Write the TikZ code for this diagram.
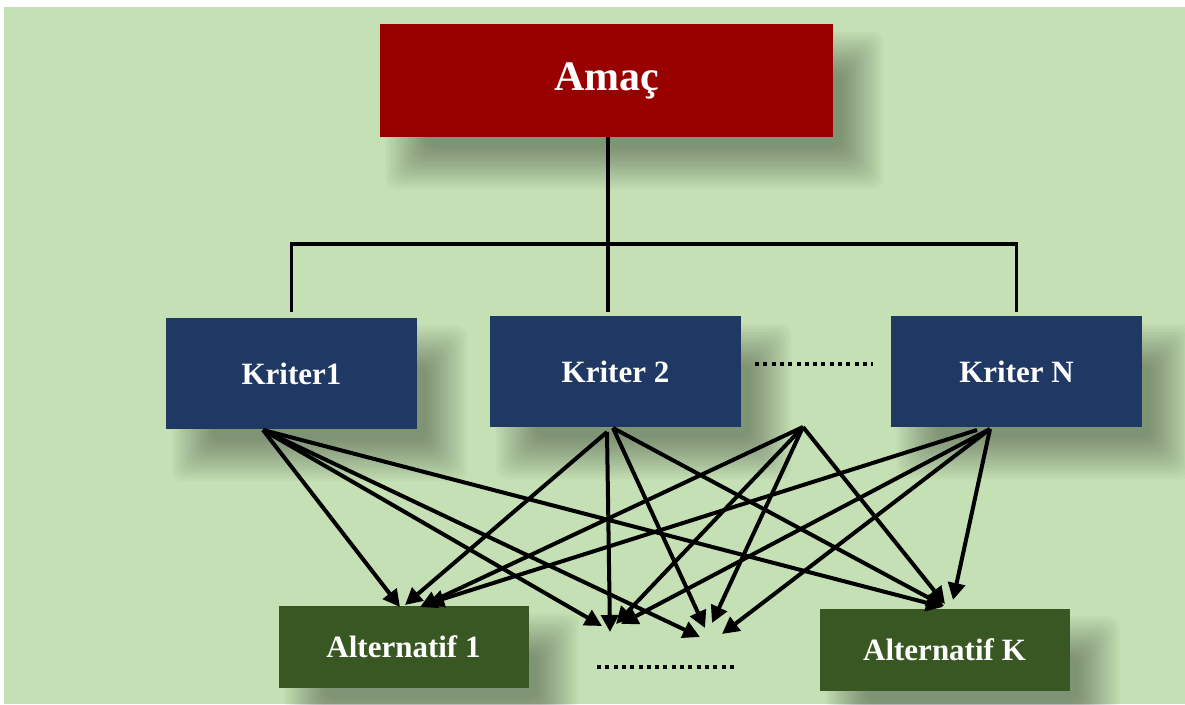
\documentclass[tikz,border=0pt]{standalone}
\usepackage{fontspec}
\setmainfont{Liberation Serif}
\usetikzlibrary{arrows.meta,calc}
\definecolor{bggreen}{HTML}{C5E0B4}
\definecolor{goalred}{HTML}{990000}
\definecolor{critblue}{HTML}{203864}
\definecolor{altgreen}{HTML}{385723}
\pgfdeclarelayer{back}
\pgfsetlayers{back,main}
\tikzset{
  box/.style={draw=none, inner sep=0pt, text=white,
    font=\fontsize{31}{37}\selectfont\bfseries},
  goalbox/.style={box, fill=goalred, minimum width=453pt, minimum height=113pt,
    font=\fontsize{42}{50}\selectfont\bfseries},
  critbox/.style={box, fill=critblue, minimum width=251pt, minimum height=111pt},
  altbox/.style={box, fill=altgreen, minimum width=250pt, minimum height=82pt},
  tree/.style={line width=3.8pt, black, line join=miter},
  arr/.style={line width=4pt, black, -{Triangle[length=17pt,width=17pt]}},
  dotrow/.style={line width=4pt, black, dash pattern=on 4pt off 4.3pt}
}
% soft drop shadow behind a node: nested translucent rectangles,
% offset down and to the right
\newcommand\softshadow[1]{%
  \begin{pgfonlayer}{back}
    \foreach \i in {0,...,15}{
      \pgfmathsetmacro\d{22-2.75*\i}
      \fill[black, fill opacity=0.025, rounded corners=10pt]
        ($(#1.north west)+(28-\d,30-\d)$) rectangle
        ($(#1.south east)+(28+\d,30+\d)$);
    }
  \end{pgfonlayer}}
\begin{document}
\begin{tikzpicture}[x=1pt,y=-1pt]
  % page and panel
  \begin{pgfonlayer}{back}
    \fill[white] (0,0) rectangle (1185,704);
    \fill[bggreen] (4,7) rectangle (1185,704);
  \end{pgfonlayer}
  \useasboundingbox (0,0) rectangle (1185,704);

  % goal, criteria and alternatives
  \node[goalbox] (amac) at (606.5,80.5) {Amaç};
  \node[critbox] (k1) at (291.5,373.5) {Kriter1};
  \node[critbox] (k2) at (615.5,371.5) {Kriter 2};
  \node[critbox] (kn) at (1016.5,371.5) {Kriter N};
  \node[altbox] (a1) at (403.5,646.5) {Alternatif 1};
  \node[altbox] (ak) at (944.5,649.5) {Alternatif K};
  \foreach \n in {amac,k1,k2,kn,a1,ak} {\softshadow{\n}}

  % hierarchy lines from the goal to the criteria
  \coordinate (trunk) at ($(amac.south |- k2.north)+(1.5,-4)$);
  \coordinate (bar) at (0,244);
  \draw[tree] (amac.south -| trunk) -- (trunk);
  \draw[tree] ($(k1.north)+(0,-6)$) -- (k1.north |- bar) -- (kn.north |- bar)
    -- ($(kn.north)+(0,-4)$);

  % dotted ellipses
  \coordinate (dk-l) at (755,364);
  \coordinate (dk-r) at (873,364);
  \coordinate (da-l) at (597,667);
  \coordinate (da-r) at (738,667);
  \draw[dotrow] (dk-l) -- (dk-r);
  \draw[dotrow] (da-l) -- (da-r);

  % arrow origins under the criteria
  \coordinate (s1)  at (263,430);
  \coordinate (s2a) at (607,432);
  \coordinate (s2b) at (613,428);
  \coordinate (s3)  at (803,427);
  \coordinate (s4a) at (977,430);
  \coordinate (s4b) at (990,429);

  % arrow tips above the alternatives
  \coordinate (t1a) at (400,607);
  \coordinate (t1b) at (405,605);
  \coordinate (t1c) at (420,607);
  \coordinate (t1d) at (427,604);
  \coordinate (t2a) at (602,626);
  \coordinate (t2b) at (610,632);
  \coordinate (t2c) at (616,624);
  \coordinate (t2d) at (621,624);
  \coordinate (t3a) at (700,637);
  \coordinate (t3b) at (705,628);
  \coordinate (t3c) at (712,623);
  \coordinate (t3d) at (722,634);
  \coordinate (t4a) at (943,607);
  \coordinate (t4b) at (944,606);
  \coordinate (t4c) at (945,604);
  \coordinate (t4d) at (953,600);

  % every criterion points to every alternative
  \foreach \s/\t in {s1/t1a, s1/t2a, s1/t3a, s1/t4a,
                     s2a/t1b, s2a/t2b, s2b/t3b, s2b/t4b,
                     s3/t1c, s3/t2c, s3/t3c, s3/t4c,
                     s4a/t1d, s4b/t2d, s4b/t3d, s4b/t4d}
    \draw[arr] (\s) -- (\t);
\end{tikzpicture}
\end{document}
